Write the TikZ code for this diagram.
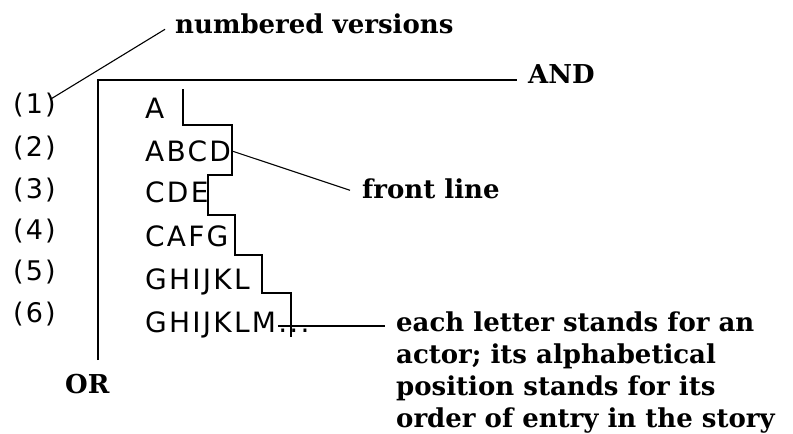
\documentclass[tikz,border=0pt]{standalone}
\usepackage{fontspec}
\setmainfont{DejaVu Serif}
\newfontfamily\rowfont[LetterSpace=8]{DejaVu Sans}
\begin{document}
\begin{tikzpicture}[x=1pt,y=-1pt,
  rowtext/.style={font=\rowfont\fontsize{28}{28}\selectfont, inner sep=0pt, anchor=base west},
  numtext/.style={font=\rowfont\fontsize{27}{27}\selectfont, inner sep=0pt, anchor=base west},
  labeltext/.style={font=\bfseries\fontsize{26}{31.7}\selectfont, inner sep=0pt, anchor=base west, align=left},
  conn/.style={line width=1.3pt, line cap=butt, line join=miter}]
\useasboundingbox (0,0) rectangle (793,434);

% version numbers
\node[numtext] (n1) at (13,113) {(1)};
\node[numtext] (n2) at (13,156) {(2)};
\node[numtext] (n3) at (13,198) {(3)};
\node[numtext] (n4) at (13,239) {(4)};
\node[numtext] (n5) at (13,280) {(5)};
\node[numtext] (n6) at (13,322) {(6)};

% actor rows
\node[rowtext] (r1) at (145,118) {A};
\node[rowtext] (r2) at (145,161) {ABCD};
\node[rowtext] (r3) at (145,202) {CDE};
\node[rowtext] (r4) at (145,246) {CAFG};
\node[rowtext] (r5) at (145,289) {GHIJKL};
\node[rowtext] (r6) at (145,332) {GHIJKLM...};

% labels
\node[labeltext] (nv) at (175,33) {numbered versions};
\node[labeltext] (and) at (528,83) {AND};
\node[labeltext] (or) at (65,393) {OR};
\node[labeltext] (fl) at (362,198) {front line};
% the base anchor of a multi-line node sits on its last line
\node[labeltext] (note) at (396,427) {each letter stands for an\\actor; its alphabetical\\position stands for its\\order of entry in the story};

% axes of the two relations
\coordinate (orend) at (98,360);
\coordinate (corner) at (98,80);
\coordinate (andend) at (517,80);
\draw[conn] (orend) -- (corner) -- (andend);

% staircase front line
\coordinate (s0) at (183,89);
\coordinate (s2) at (232,151);
\coordinate (s6) at (278,326);
\draw[conn] (s0) -- (183,125) -- (232,125) -- (232,175) -- (208,175)
  -- (208,215) -- (235,215) -- (235,255) -- (262,255) -- (262,293)
  -- (291,293) -- (291,337);

% label leaders
\draw[line width=1.1pt] ([xshift=-4pt,yshift=-6pt]n1.north east) -- ([xshift=-10pt,yshift=-6pt]nv.west);
\draw[line width=1.1pt] (s2) -- ([xshift=-12pt,yshift=-2pt]fl.west);
\draw[conn] (s6) -- ([xshift=-11pt]note.north west |- s6);
\end{tikzpicture}
\end{document}
